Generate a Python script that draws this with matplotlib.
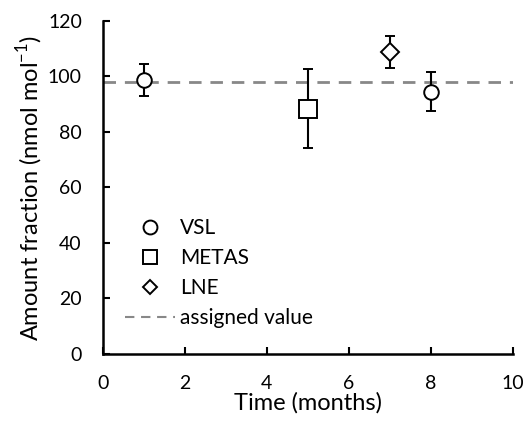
import matplotlib
matplotlib.use("Agg")
import matplotlib.pyplot as plt
from matplotlib.lines import Line2D

plt.rcParams["font.family"] = ["Lato", "DejaVu Sans"]

# data
vsl_t = [1, 8]
vsl_y = [98.7, 94.5]
vsl_lo = [5.8, 7.0]
vsl_hi = [5.9, 7.2]

metas_t = [5]
metas_y = [88.4]
metas_lo = [14.2]
metas_hi = [14.4]

lne_t = [7]
lne_y = [108.9]
lne_lo = [5.9]
lne_hi = [5.7]

assigned = 98.0

fig = plt.figure(figsize=(5.26, 4.24), dpi=100)
ax = fig.add_axes([0.1953, 0.1651, 0.780, 0.7854])

kw = dict(ls="none", color="black", mfc="white", mec="black", mew=1.4,
          elinewidth=1.5, capsize=3.3, capthick=1.5, zorder=3)
ax.errorbar(vsl_t, vsl_y, yerr=[vsl_lo, vsl_hi], marker="o", ms=10.5, **kw)
ax.errorbar(metas_t, metas_y, yerr=[metas_lo, metas_hi], marker="s", ms=12.5, **kw)
ax.errorbar(lne_t, lne_y, yerr=[lne_lo, lne_hi], marker="D", ms=9, **kw)
ax.axhline(assigned, color="#888888", ls=(0, (4.5, 3.2)), lw=2, zorder=1)

ax.set_xlim(0, 10); ax.set_ylim(0, 120)
ax.set_xticks(range(0, 11, 2)); ax.set_yticks(range(0, 121, 20))
ax.tick_params(direction="in", length=5, width=1.5, labelsize=14)
ax.tick_params(axis="y", pad=15)
ax.tick_params(axis="x", pad=15)
for s in ("top", "right"):
    ax.spines[s].set_visible(False)
for s in ("left", "bottom"):
    ax.spines[s].set_linewidth(1.8)
ax.set_xlabel("Time (months)", fontsize=17, labelpad=0)
ax.set_ylabel("Amount fraction (nmol mol$^{\\mathregular{-1}}$)", fontsize=17, labelpad=2)

handles = [
    Line2D([], [], ls="none", marker="o", ms=10, mfc="white", mec="black", mew=1.4),
    Line2D([], [], ls="none", marker="s", ms=10, mfc="white", mec="black", mew=1.4),
    Line2D([], [], ls="none", marker="D", ms=7.5, mfc="white", mec="black", mew=1.4),
    Line2D([], [], color="#888888", ls=(0, (4.5, 3.2)), lw=1.5),
]
ax.legend(handles, ["VSL", "METAS", "LNE", "assigned value"], loc="upper left",
          bbox_to_anchor=(0.054, 0.408), frameon=False, fontsize=15,
          borderpad=0, borderaxespad=0,
          handlelength=2.4, handletextpad=0.25, labelspacing=0.48)

fig.savefig("out.png", dpi=100)
